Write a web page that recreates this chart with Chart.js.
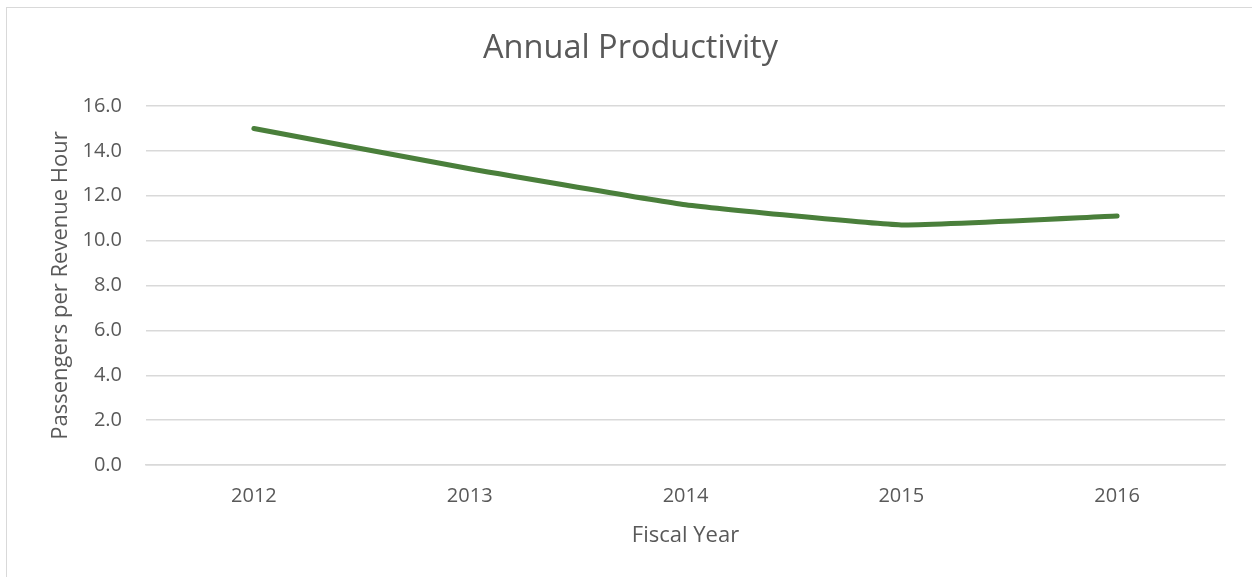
<!DOCTYPE html>
<html>
<head>
<meta charset="utf-8">
<script src="https://cdn.jsdelivr.net/npm/chart.js@4"></script>
<style>
    html, body { margin: 0; padding: 0; background: #fff; overflow: hidden; }
    #frame {
        position: absolute; left: 6px; top: 7px; width: 1400px; height: 700px;
        border: 1.5px solid #d9d9d9; box-sizing: border-box;
    }
    #wrap { position: absolute; left: 0; top: 0; width: 1252px; height: 577px; }
</style>
</head>
<body>
<div id="frame"></div>
<div id="wrap"><canvas id="chart" width="1252" height="577"></canvas></div>
<script>
const years = ["2012", "2013", "2014", "2015", "2016"];
const passengersPerHour = [15.0, 13.2, 11.6, 10.7, 11.1];
const yTicks = [0, 2, 4, 6, 8, 10, 12, 14, 16];

const textColor = "#595959";
const gridColor = "#d9d9d9";
const fontFamily = "'Open Sans', sans-serif";

const ctx = document.getElementById("chart").getContext("2d");
new Chart(ctx, {
    type: "line",
    data: {
        labels: years,
        datasets: [
            {
                label: "Passengers per Revenue Hour",
                data: passengersPerHour,
                borderColor: "#4a7f3b",
                backgroundColor: "#4a7f3b",
                borderWidth: 5,
                borderCapStyle: "round",
                borderJoinStyle: "round",
                pointRadius: 0,
                tension: 0.12,
            },
        ],
    },
    options: {
        responsive: false,
        animation: false,
        layout: {
            // left padding keeps the title centred where the original has it
            padding: { left: 36, right: 27, top: 0, bottom: 12 },
        },
        plugins: {
            legend: { display: false },
            tooltip: { enabled: false },
            title: {
                display: true,
                text: "Annual Productivity",
                color: textColor,
                font: { family: fontFamily, size: 32.5, weight: "normal" },
                padding: { top: 29, bottom: 38 },
            },
        },
        scales: {
            x: {
                offset: true,
                grid: { display: false, drawTicks: false },
                border: { display: true, color: gridColor, width: 1.5 },
                ticks: {
                    color: textColor,
                    padding: 19,
                    font: { family: fontFamily, size: 20 },
                },
                title: {
                    display: true,
                    text: "Fiscal Year",
                    color: textColor,
                    font: { family: fontFamily, size: 22 },
                    padding: { top: 0, bottom: 16 },
                },
                afterFit: (scale) => {
                    scale.height = 100;
                },
            },
            y: {
                min: 0,
                max: 16,
                grid: { color: gridColor, lineWidth: 1.5, drawTicks: false },
                border: { display: false },
                afterBuildTicks: (scale) => {
                    scale.ticks = yTicks.map((v) => ({ value: v }));
                },
                ticks: {
                    color: textColor,
                    padding: 24,
                    font: { family: fontFamily, size: 20 },
                    callback: (v) => Number(v).toFixed(1),
                },
                title: {
                    display: true,
                    text: "Passengers per Revenue Hour",
                    color: textColor,
                    font: { family: fontFamily, size: 22 },
                    padding: { top: 12, bottom: 0 },
                },
                afterFit: (scale) => {
                    scale.width = 110;
                },
            },
        },
    },
});
</script>
</body>
</html>
